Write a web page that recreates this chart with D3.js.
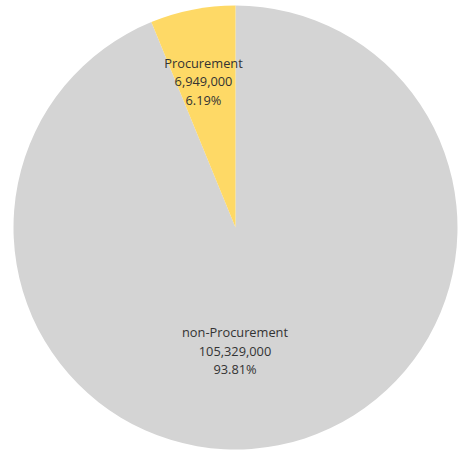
<!DOCTYPE html>
<html>
<head>
<meta charset="utf-8">
<script src="https://cdn.jsdelivr.net/npm/d3@7"></script>
<style>
  html, body { margin: 0; padding: 0; background: #fff; }
  svg { display: block; }
</style>
</head>
<body>
<svg id="chart" width="459" height="450"></svg>
<script>
const categories = ["non-Procurement", "Procurement"];
const values = [105329000, 6949000];
const percentLabels = ["93.81%", "6.19%"];
const colors = ["#d4d4d4", "#fed966"];

const svg = d3.select("#chart");
const cx = 235.5, cy = 227.5, r = 222;
const g = svg.append("g").attr("transform", `translate(${cx},${cy})`);

const pie = d3.pie().sort(null).value(d => d.value);
const data = categories.map((c, i) => ({ name: c, value: values[i], pct: percentLabels[i], color: colors[i] }));
const arcs = pie(data);
const arc = d3.arc().innerRadius(0).outerRadius(r);

g.selectAll("path").data(arcs).join("path")
  .attr("d", arc)
  .attr("fill", d => d.data.color);

const fmt = d3.format(",");
// label anchor (middle line baseline) relative to pie center
function labelPos(d) {
  if (d.data.name === "Procurement") return [-32, -141.5];
  return [-0.5, 128];
}

const labels = g.selectAll("g.lbl").data(arcs).join("g")
  .attr("class", "lbl")
  .attr("transform", d => { const p = labelPos(d); return `translate(${p[0]},${p[1]})`; });

labels.each(function(d) {
  const t = d3.select(this).append("text")
    .attr("text-anchor", "middle")
    .attr("font-family", "'Open Sans', sans-serif")
    .attr("font-size", 12.8)
    .attr("fill", "#333");
  const lines = [d.data.name, fmt(d.data.value), d.data.pct];
  lines.forEach((l, i) => {
    t.append("tspan").attr("x", 0).attr("y", (i - 1) * 18.5).text(l);
  });
});
</script>
</body>
</html>
